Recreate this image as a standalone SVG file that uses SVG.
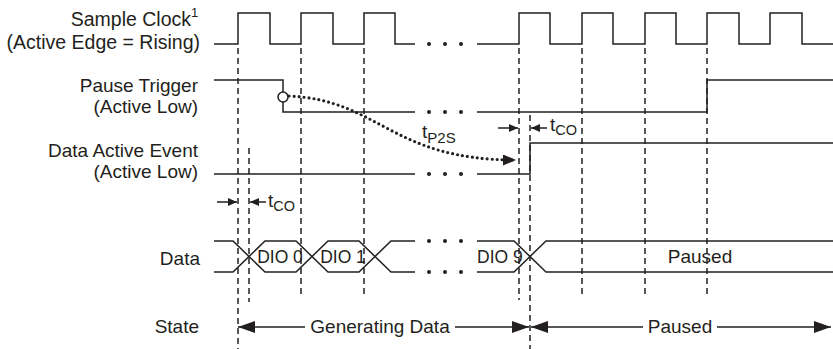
<svg xmlns="http://www.w3.org/2000/svg" width="833" height="349" viewBox="0 0 833 349">
<style>
text{font-family:"Liberation Sans",Arial,sans-serif;fill:#231f20;font-size:19px}
.lbl{text-anchor:end}
.mid{text-anchor:middle}
.sub{font-size:14.5px}
.w{fill:none;stroke:#231f20;stroke-width:1.5}
.d{fill:none;stroke:#231f20;stroke-width:1.5;stroke-dasharray:6 4}
.dot{fill:#231f20}
</style>
<defs>
<marker id="sa" markerWidth="18" markerHeight="12" refX="17" refY="6" orient="auto" markerUnits="userSpaceOnUse"><path d="M0,0 L17,6 L0,12 Z" fill="#231f20"/></marker>
<marker id="ta" markerWidth="9" markerHeight="8" refX="9" refY="4" orient="auto" markerUnits="userSpaceOnUse"><path d="M0,0 L9,4 L0,8 Z" fill="#231f20"/></marker>
<marker id="pa" markerWidth="14" markerHeight="11" refX="13" refY="5.5" orient="auto" markerUnits="userSpaceOnUse"><path d="M0,0 L13,5.5 L0,11 Z" fill="#231f20"/></marker>
</defs>

<g id="labels">
<text class="lbl" x="191" y="26" style="font-size:19.5px">Sample Clock</text>
<text x="191" y="17" style="font-size:13px">1</text>
<text class="lbl" x="200" y="49" style="font-size:19.5px">(Active Edge = Rising)</text>
<text class="lbl" x="198" y="92">Pause Trigger</text>
<text class="lbl" x="198" y="113">(Active Low)</text>
<text class="lbl" x="198" y="157">Data Active Event</text>
<text class="lbl" x="198" y="178">(Active Low)</text>
<text class="lbl" x="200" y="265">Data</text>
<text class="lbl" x="199" y="333">State</text>
</g>

<g id="gridlines">
<line class="d" x1="238" y1="48" x2="238" y2="349"/>
<line class="d" x1="249" y1="148" x2="249" y2="302"/>
<line class="d" x1="301" y1="48" x2="301" y2="296"/>
<line class="d" x1="364" y1="48" x2="364" y2="296"/>
<line class="d" x1="519" y1="48" x2="519" y2="300"/>
<line class="d" x1="530" y1="115" x2="530" y2="349"/>
<line class="d" x1="582" y1="48" x2="582" y2="296"/>
<line class="d" x1="645" y1="48" x2="645" y2="296"/>
<line class="d" x1="707" y1="48" x2="707" y2="296"/>
</g>

<g id="sample-clock">
<path class="w" d="M214,44 H238 V13 H270 V44 H301 V13 H333 V44 H364 V13 H395 V44 H415"/>
<path class="w" d="M477,44 H519 V13 H550 V44 H582 V13 H613 V44 H645 V13 H676 V44 H707 V13 H739 V44 H770 V13 H802 V44 H833"/>
<circle class="dot" cx="429" cy="44" r="2"/><circle class="dot" cx="445" cy="44" r="2"/><circle class="dot" cx="461" cy="44" r="2"/>
</g>

<g id="pause-trigger">
<path class="w" d="M214,80 H283 V112 H415"/>
<path class="w" d="M477,112 H707 V80 H833"/>
<circle cx="283" cy="97" r="5" fill="#fff" stroke="#231f20" stroke-width="1.5"/>
<circle class="dot" cx="429" cy="112" r="2"/><circle class="dot" cx="445" cy="112" r="2"/><circle class="dot" cx="461" cy="112" r="2"/>
</g>

<g id="data-active-event">
<path class="w" d="M214,174 H415"/>
<path class="w" d="M477,174 H530 V143 H833"/>
<circle class="dot" cx="429" cy="174" r="2"/><circle class="dot" cx="445" cy="174" r="2"/><circle class="dot" cx="461" cy="174" r="2"/>
</g>

<g id="data">
<path class="w" d="M214,241 H233 L265,272 H296 L328,241 H359 L391,272 H415"/>
<path class="w" d="M214,272 H233 L265,241 H296 L328,272 H359 L391,241 H415"/>
<path class="w" d="M477,241 H514 L546,272 H833"/>
<path class="w" d="M477,272 H514 L546,241 H833"/>
<circle class="dot" cx="429" cy="241" r="2"/><circle class="dot" cx="445" cy="241" r="2"/><circle class="dot" cx="461" cy="241" r="2"/>
<circle class="dot" cx="429" cy="272" r="2"/><circle class="dot" cx="445" cy="272" r="2"/><circle class="dot" cx="461" cy="272" r="2"/>
<text class="mid" x="280" y="263" style="font-size:17.5px">DIO 0</text>
<text class="mid" x="343" y="263" style="font-size:17.5px">DIO 1</text>
<text x="477" y="263" style="font-size:17.5px">DIO 9</text>
<text class="mid" x="700" y="263">Paused</text>
</g>

<g id="connectors">
<path d="M289,96 C380,100 390,160 516,160" fill="none" stroke="#231f20" stroke-width="3.2" stroke-dasharray="0 5" stroke-linecap="round" marker-end="url(#pa)"/>
<line x1="498" y1="128" x2="518" y2="128" stroke="#231f20" stroke-width="1.5" marker-end="url(#ta)"/>
<line x1="547" y1="128" x2="531" y2="128" stroke="#231f20" stroke-width="1.5" marker-end="url(#ta)"/>
<line x1="217" y1="202" x2="237" y2="202" stroke="#231f20" stroke-width="1.5" marker-end="url(#ta)"/>
<line x1="266" y1="202" x2="250" y2="202" stroke="#231f20" stroke-width="1.5" marker-end="url(#ta)"/>
<line x1="305" y1="327" x2="238" y2="327" stroke="#231f20" stroke-width="1.5" marker-end="url(#sa)"/>
<line x1="455" y1="327" x2="529" y2="327" stroke="#231f20" stroke-width="1.5" marker-end="url(#sa)"/>
<line x1="643" y1="327" x2="531" y2="327" stroke="#231f20" stroke-width="1.5" marker-end="url(#sa)"/>
<line x1="717" y1="327" x2="831" y2="327" stroke="#231f20" stroke-width="1.5" marker-end="url(#sa)"/>
</g>

<g id="timing-labels">
<text x="422" y="138">t<tspan class="sub" dy="5" style="font-size:15px">P2S</tspan></text>
<text x="550" y="131">t<tspan class="sub" dy="4">CO</tspan></text>
<text x="268" y="207">t<tspan class="sub" dy="4">CO</tspan></text>
<text class="mid" x="380" y="333">Generating Data</text>
<text class="mid" x="680" y="333">Paused</text>
</g>
</svg>
